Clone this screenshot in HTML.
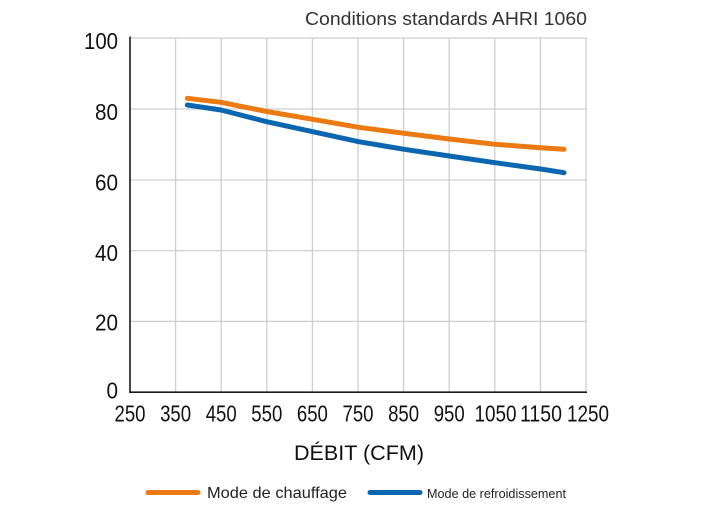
<!DOCTYPE html>
<html>
<head>
<meta charset="utf-8">
<style>
html,body{margin:0;padding:0;background:#fff;}
svg{display:block;}
text{font-family:"Liberation Sans",Arial,sans-serif;}
</style>
</head>
<body>
<svg width="706" height="513" viewBox="0 0 706 513" xmlns="http://www.w3.org/2000/svg">
<rect width="706" height="513" fill="#fff"/>
<!-- title -->
<text x="305" y="25" font-size="18" fill="#333" textLength="282" lengthAdjust="spacingAndGlyphs">Conditions standards AHRI 1060</text>
<!-- grid -->
<g stroke="#cfcfcf" stroke-width="1.3" fill="none">
<line x1="130" y1="38" x2="587" y2="38"/>
<line x1="130" y1="109" x2="587" y2="109"/>
<line x1="130" y1="180" x2="587" y2="180"/>
<line x1="130" y1="250.6" x2="587" y2="250.6"/>
<line x1="130" y1="321.4" x2="587" y2="321.4"/>
<line x1="175.6" y1="38" x2="175.6" y2="392"/>
<line x1="221.2" y1="38" x2="221.2" y2="392"/>
<line x1="266.8" y1="38" x2="266.8" y2="392"/>
<line x1="312.4" y1="38" x2="312.4" y2="392"/>
<line x1="358" y1="38" x2="358" y2="392"/>
<line x1="403.6" y1="38" x2="403.6" y2="392"/>
<line x1="449.2" y1="38" x2="449.2" y2="392"/>
<line x1="494.8" y1="38" x2="494.8" y2="392"/>
<line x1="540.4" y1="38" x2="540.4" y2="392"/>
<line x1="586" y1="38" x2="586" y2="392"/>
</g>
<!-- axes -->
<g stroke="#1a1a1a" stroke-width="1.6">
<line x1="130" y1="36.5" x2="130" y2="392.5"/>
<line x1="129.2" y1="392.2" x2="587" y2="392.2"/>
</g>
<!-- y labels -->
<g font-size="23" fill="#111" text-anchor="end">
<text x="118" y="49" textLength="34" lengthAdjust="spacingAndGlyphs">100</text>
<text x="118" y="120" textLength="23" lengthAdjust="spacingAndGlyphs">80</text>
<text x="118" y="190.5" textLength="23" lengthAdjust="spacingAndGlyphs">60</text>
<text x="118" y="261" textLength="23" lengthAdjust="spacingAndGlyphs">40</text>
<text x="118" y="330.5" textLength="23" lengthAdjust="spacingAndGlyphs">20</text>
<text x="118" y="398.5" textLength="11.5" lengthAdjust="spacingAndGlyphs">0</text>
</g>
<!-- x labels -->
<g font-size="23" fill="#111" text-anchor="middle">
<text x="130" y="421.5" textLength="31" lengthAdjust="spacingAndGlyphs">250</text>
<text x="175.6" y="421.5" textLength="31" lengthAdjust="spacingAndGlyphs">350</text>
<text x="221.2" y="421.5" textLength="31" lengthAdjust="spacingAndGlyphs">450</text>
<text x="266.8" y="421.5" textLength="31" lengthAdjust="spacingAndGlyphs">550</text>
<text x="312.4" y="421.5" textLength="31" lengthAdjust="spacingAndGlyphs">650</text>
<text x="358" y="421.5" textLength="31" lengthAdjust="spacingAndGlyphs">750</text>
<text x="403.6" y="421.5" textLength="31" lengthAdjust="spacingAndGlyphs">850</text>
<text x="449.2" y="421.5" textLength="31" lengthAdjust="spacingAndGlyphs">950</text>
<text x="495.5" y="421.5" textLength="42" lengthAdjust="spacingAndGlyphs">1050</text>
<text x="541" y="421.5" textLength="42" lengthAdjust="spacingAndGlyphs">1150</text>
<text x="588" y="421.5" textLength="42" lengthAdjust="spacingAndGlyphs">1250</text>
</g>
<!-- x title -->
<text x="294" y="460" font-size="21" fill="#111" textLength="130" lengthAdjust="spacingAndGlyphs">DÉBIT (CFM)</text>
<!-- series -->
<polyline fill="none" stroke="#EC7A12" stroke-width="5" stroke-linecap="round" stroke-linejoin="round"
 points="187.3,98.3 221,102.3 266.7,111.5 312.7,119.3 358.7,127.3 404.3,133.3 449.3,139 495,144.3 540.7,147.7 564,149.3"/>
<polyline fill="none" stroke="#0B66B0" stroke-width="5" stroke-linecap="round" stroke-linejoin="round"
 points="187.3,105 221,110 266.7,121.7 312.7,131.7 358.7,141.7 404.3,149.3 449.3,156 495,162.7 540.7,169 564,172.7"/>
<!-- legend -->
<line x1="148" y1="492.5" x2="198" y2="492.5" stroke="#EC7A12" stroke-width="5" stroke-linecap="round"/>
<text x="207" y="498" font-size="16" fill="#222" textLength="140" lengthAdjust="spacingAndGlyphs">Mode de chauffage</text>
<line x1="370" y1="492.5" x2="420" y2="492.5" stroke="#0B66B0" stroke-width="5" stroke-linecap="round"/>
<text x="427" y="498" font-size="12.5" fill="#222" textLength="139" lengthAdjust="spacingAndGlyphs">Mode de refroidissement</text>
</svg>
</body>
</html>
